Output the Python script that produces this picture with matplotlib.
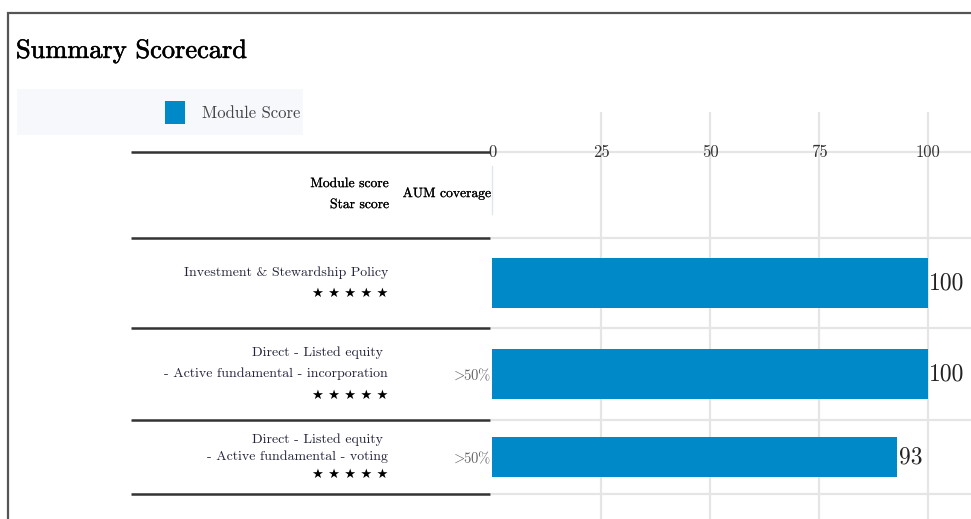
import matplotlib.pyplot as plt
import matplotlib.patheffects as pe
from matplotlib.patches import Rectangle

modules = ["Investment & Stewardship Policy",
           "Direct - Listed equity \n- Active fundamental - incorporation",
           "Direct - Listed equity \n- Active fundamental - voting"]
scores = [100, 100, 93]
n_stars = [5, 5, 5]
aum = ["", r"$>\!\!$50%", r"$>\!\!$50%"]
ticks = [0, 25, 50, 75, 100]

W, H = 971, 519
BLUE = "#0089c9"
plt.rcParams["font.family"] = ["cmr10", "DejaVu Sans"]
plt.rcParams["mathtext.fontset"] = "cm"
plt.rcParams["axes.unicode_minus"] = False

fig = plt.figure(figsize=(W / 100, H / 100), dpi=100)

# background axes in pixel coordinates for the table part
bg = fig.add_axes([0, 0, 1, 1])
bg.set_xlim(0, W)
bg.set_ylim(H, 0)
bg.axis("off")

# outer frame
bg.plot([8, 8, W], [H, 13, 13], color="#555555", lw=1.6, solid_joinstyle="miter")

# title is a bit heavier than the rest, thicken the strokes slightly
bg.text(16, 51, "Summary Scorecard", fontsize=19, va="center", ha="left",
        color="black",
        path_effects=[pe.withStroke(linewidth=0.4, foreground="black")])

# legend
bg.add_patch(Rectangle((17, 89), 286, 46, color="#f7f8fb", lw=0))
bg.add_patch(Rectangle((165, 101), 20, 23, color=BLUE, lw=0))
bg.text(202, 113, "Module Score", fontsize=12, va="center", color="#444444")

# row layout
header_top = 152
row_edges = [238, 328, 420, 494]
tops = [row_edges[0]] + row_edges[1:-1]
bottoms = row_edges[1:]

for y in [header_top] + row_edges:
    bg.plot([131, 490], [y, y], color="#333333", lw=1.8, solid_capstyle="butt")
    bg.plot([491, W], [y, y], color="#e5e5e5", lw=1.6, solid_capstyle="butt")

# header
bold = [pe.withStroke(linewidth=0.15, foreground="black")]
bg.text(389, 184, "Module score", fontsize=9.8, ha="right", va="center", path_effects=bold)
bg.text(389, 205, "Star score", fontsize=9.8, ha="right", va="center", path_effects=bold)
bg.text(491, 194, "AUM coverage", fontsize=9.8, ha="right", va="center", path_effects=bold)
bg.plot([492, 492], [166, 214], color="#dde6ee", lw=1)

for label, stars, cov, top, bot in zip(modules, n_stars, aum, tops, bottoms):
    h = bot - top
    mid = (top + bot) / 2
    lines = label.split("\n")
    step = h * 0.235
    start = mid - step * len(lines) / 2
    for i, line in enumerate(lines):
        bg.text(388, start + i * step, line, fontsize=10, ha="right", va="center",
                color="#23233d")
    bg.text(388, start + len(lines) * step, " ".join(["\u2605"] * stars),
            fontsize=9.5, ha="right", va="center", color="black",
            family="DejaVu Sans")
    if cov:
        bg.text(491, mid + 1, cov, fontsize=10.5, ha="right", va="center",
                color="#666666")

# bar axes, y in the same pixel units
ax = fig.add_axes([492 / W, 0, (W - 492) / W, (H - 112) / H])
ax.set_xlim(0, (W - 492) / 4.36)
ax.set_ylim(H, 112)
ax.axis("off")
ax.patch.set_alpha(0)

for t in ticks:
    if t > 0:
        ax.plot([t, t], [112, H], color="#e5e5e5", lw=1.6, zorder=0)
    ax.text(t, header_top, str(t), fontsize=12, ha="center", va="center",
            color="#333333")

centers = [(a + b) / 2 for a, b in zip(tops, bottoms)]
heights = [(b - a) * 0.55 for a, b in zip(tops, bottoms)]
ax.barh(centers, scores, height=heights, color=BLUE, zorder=2)
for c, s in zip(centers, scores):
    ax.text(s + 0.3, c, str(s), fontsize=17, ha="left", va="center", color="#222222")

fig.savefig("out.png", dpi=100)
